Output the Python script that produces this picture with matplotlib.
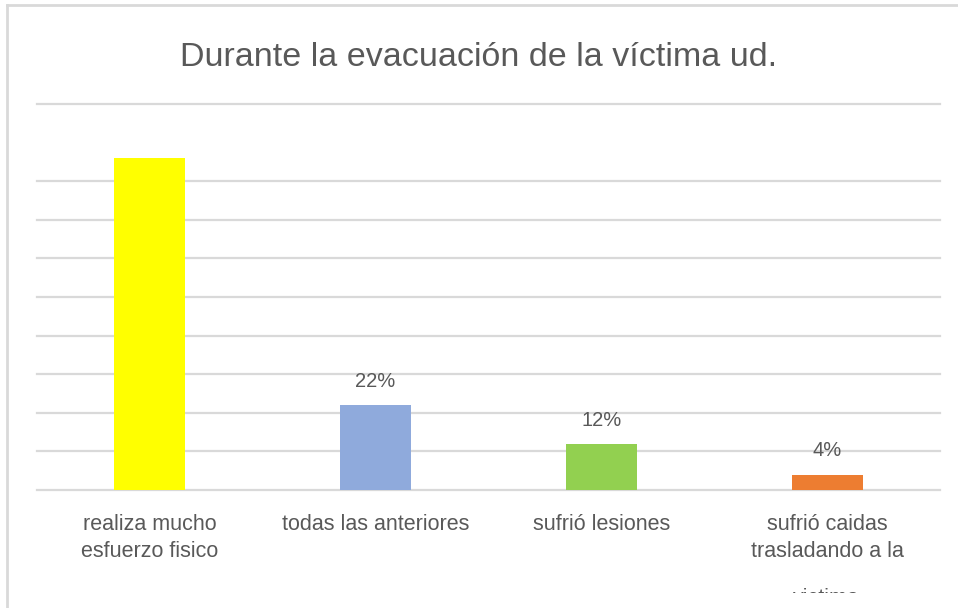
import matplotlib.pyplot as plt
from matplotlib.patches import Rectangle

categories = ['realiza mucho\nesfuerzo fisico', 'todas las anteriores',
              'sufrió lesiones', 'sufrió caidas\ntrasladando a la']
values = [86, 22, 12, 4]
labels = [None, '22%', '12%', '4%']
colors = ['#FFFF00', '#8FAADC', '#92D050', '#ED7D31']
grid_ticks = [0, 10, 20, 30, 40, 50, 60, 70, 80, 100]

plt.rcParams['font.family'] = ['Liberation Sans', 'DejaVu Sans']
txt = '#595959'

fig = plt.figure(figsize=(9.58, 6.08), dpi=100)
ax = fig.add_axes([37 / 958, 1 - 490 / 608, 903 / 958, 386 / 608])

x = range(len(values))
ax.bar(x, values, width=0.315, color=colors, zorder=3)
for xi, v, lab in zip(x, values, labels):
    if lab:
        ax.annotate(lab, (xi, v), xytext=(0, 17), textcoords='offset points',
                    ha='center', va='center', fontsize=14.5, color=txt)

for t in grid_ticks:
    ax.axhline(t, color='#d9d9d9', lw=1.6, zorder=1, clip_on=False)

ax.set_xlim(-0.5, 3.5)
ax.set_ylim(0, 100)
ax.set_yticks([])
ax.set_xticks(list(x))
ax.set_xticklabels(categories, fontsize=15.5, color=txt, linespacing=1.38)
ax.tick_params(axis='x', length=0, pad=17)
for s in ax.spines.values():
    s.set_visible(False)

# third line of last label, partly hidden
fig.text(826 / 958, 1 - 599 / 608, 'victima', ha='center', va='center',
         fontsize=15.5, color=txt)
fig.patches.append(Rectangle((12 / 958, 0), 1, 1 - 593 / 608, transform=fig.transFigure,
                             facecolor='white', edgecolor='none', zorder=10))

fig.text(0.5, 1 - 57 / 608, 'Durante la evacuación de la víctima ud.', ha='center',
         va='center', fontsize=24.5, color=txt)

# chart frame
fig.add_artist(plt.Line2D([7 / 958, 7 / 958], [0, 1 - 5 / 608], transform=fig.transFigure,
                          color='#d9d9d9', lw=2))
fig.add_artist(plt.Line2D([7 / 958, 1], [1 - 5 / 608, 1 - 5 / 608], transform=fig.transFigure,
                          color='#d9d9d9', lw=2))

fig.savefig('out.png', dpi=100)
